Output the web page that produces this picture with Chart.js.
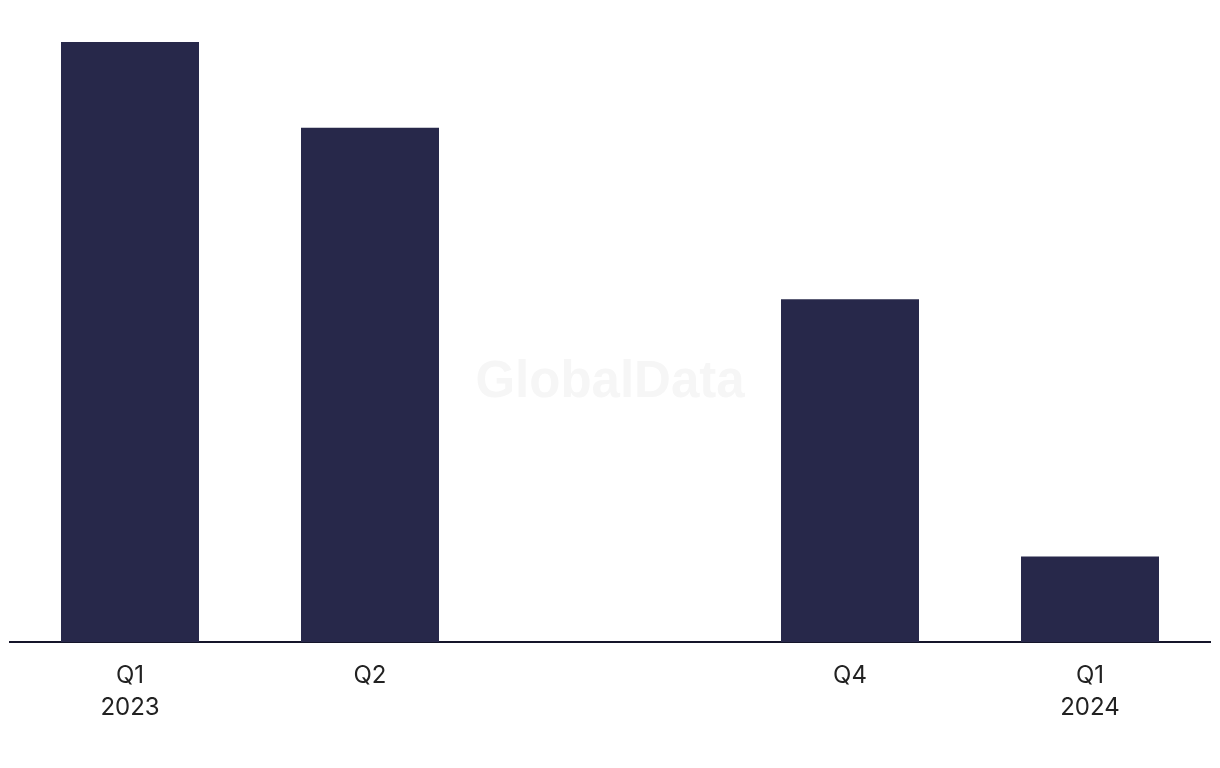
<!DOCTYPE html>
<html>
<head>
<meta charset="utf-8">
<script src="https://cdn.jsdelivr.net/npm/chart.js@4/dist/chart.umd.min.js"></script>
<style>
html,body{margin:0;padding:0;background:#fff;}
#wrap{width:1220px;height:768px;position:relative;}
</style>
</head>
<body>
<div id="wrap"><canvas id="c" width="1220" height="768"></canvas></div>
<script>
const categories = [["Q1","2023"], ["Q2"], [""], ["Q4"], ["Q1","2024"]];
const values = [7, 6, 0, 4, 1];
const yMax = 7;

const watermark = {
  id: 'watermark',
  beforeDatasetsDraw(chart) {
    const ctx = chart.ctx;
    ctx.save();
    ctx.font = 'bold 51px "Liberation Sans", Arial, sans-serif';
    ctx.fillStyle = '#f6f6f6';
    ctx.textAlign = 'center';
    ctx.textBaseline = 'middle';
    ctx.fillText('GlobalData', chart.width / 2, 383);
    ctx.restore();
  }
};

new Chart(document.getElementById('c'), {
  type: 'bar',
  data: {
    labels: categories,
    datasets: [{
      data: values,
      backgroundColor: '#27284a',
      borderWidth: 0,
      categoryPercentage: 1,
      barPercentage: 0.575
    }]
  },
  options: {
    responsive: false,
    animation: false,
    layout: { padding: { left: 10, right: 10, top: 42, bottom: 27 } },
    plugins: { legend: { display: false }, tooltip: { enabled: false } },
    scales: {
      y: { display: false, min: 0, max: yMax },
      x: {
        grid: { display: false, drawTicks: false },
        border: { display: true, color: '#15152a', width: 2 },
        ticks: {
          color: '#222222',
          padding: 17,
          maxRotation: 0,
          autoSkip: false,
          font: { family: 'Inter, "Liberation Sans", Arial, sans-serif', size: 24, lineHeight: 1.35 }
        }
      }
    }
  },
  plugins: [watermark]
});
</script>
</body>
</html>
